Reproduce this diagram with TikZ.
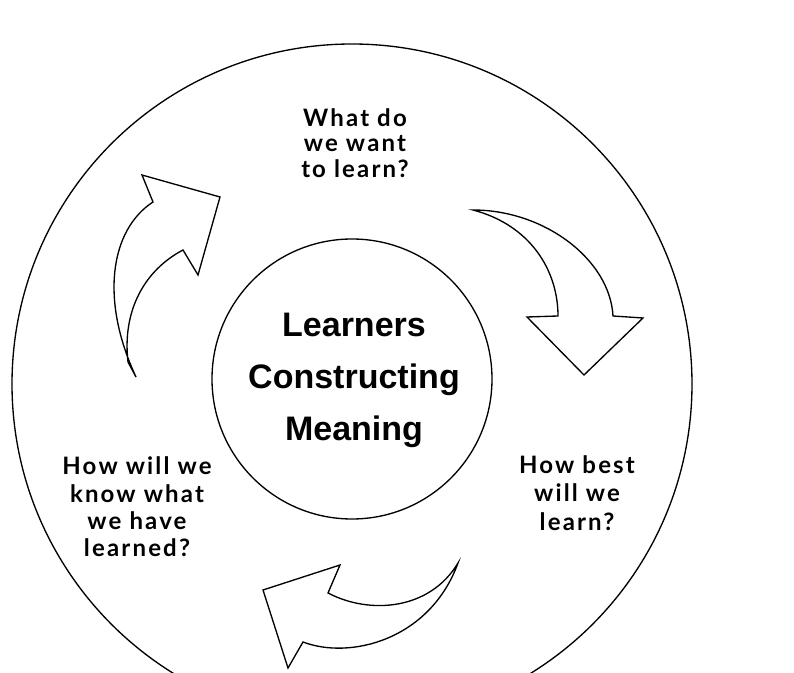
\documentclass[tikz,border=0pt]{standalone}
\usepackage{fontspec}
\setmainfont{Liberation Sans}
\newfontfamily\qfont[LetterSpace=9]{Lato}
\newfontfamily\corefont{Liberation Sans}
\begin{document}
\begin{tikzpicture}[x=0.75pt,y=-0.75pt,
  ring/.style={circle,draw=black,line width=1pt,inner sep=0pt},
  bigarrow/.style={draw=black,line width=1pt,fill=white,line join=miter},
  question/.style={align=center,inner sep=0pt,font=\qfont\bfseries\fontsize{18}{19}\selectfont},
  centertext/.style={align=center,inner sep=0pt,font=\corefont\bfseries\fontsize{25.5}{39}\selectfont}]
\useasboundingbox (0,0) rectangle (794,673);
\fill[white] (0,0) rectangle (794,673);
\begin{scope}
\clip (0,0) rectangle (794,673);
\node[ring,minimum size=510pt] (outer) at (352,384) {};
\end{scope}
\node[ring,minimum size=210pt] (inner) at (352,379) {};
\node[centertext] (core) at (354,380) {Learners\\Constructing\\Meaning};
\node[question] (q1) at (355,143) {What do\\we want\\to learn?};
\node[question,font=\qfont\bfseries\fontsize{18}{21.5}\selectfont] (q2) at (577,493) {How best\\will we\\learn?};
\node[question,font=\qfont\bfseries\fontsize{18}{20.5}\selectfont] (q3) at (137,507) {How will we\\know what\\we have\\learned?};
% arrow upper left
\draw[bigarrow] (136,377) .. controls (100,300) and (110,230) .. (153,202)
  -- (142,175) -- (220,197) -- (198,275) -- (183,250)
  .. controls (145,270) and (122,310) .. (128,362) -- cycle;
% arrow right
\draw[bigarrow] (473,210) .. controls (545,210) and (610,260) .. (613,316)
  -- (643,318) -- (584,375) -- (527,317) -- (558,316)
  .. controls (558,270) and (530,225) .. (473,210) -- cycle;
% arrow bottom
\draw[bigarrow] (458,563) .. controls (430,610) and (370,615) .. (328,593)
  -- (340,565) -- (263,590) -- (288,668) -- (303,642)
  .. controls (350,660) and (430,640) .. (458,563) -- cycle;
\end{tikzpicture}
\end{document}
